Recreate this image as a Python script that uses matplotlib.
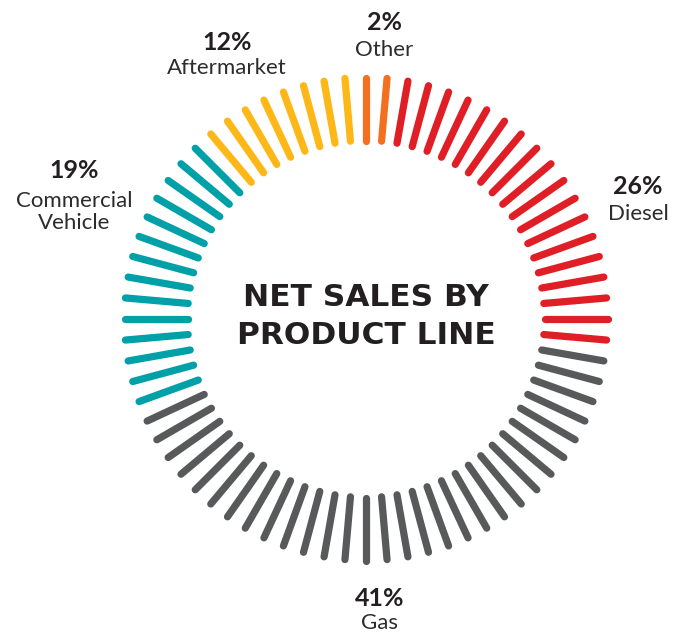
import numpy as np
import matplotlib
matplotlib.use("Agg")
import matplotlib.pyplot as plt

# net sales split by product line
segments = ["Other", "Diesel", "Gas", "Commercial\nVehicle", "Aftermarket"]
shares = [2, 26, 41, 19, 12]
tick_counts = [2, 18, 30, 14, 8]
colors = ["#F37021", "#E01E26", "#58595B", "#00A0A8", "#FDB716"]

# label anchors (percent line, name line) in pixel coords
label_pos = [(384, 23, 50), (638, 187, 214), (380, 599, 623),
             (74, 171, 212), (227, 43, 68)]

W, H = 679, 633
CX, CY = 366, 319
R_IN, R_OUT = 178.5, 241.5
STEP = 5.0


def main():
    fig = plt.figure(figsize=(W / 100, H / 100), dpi=100)
    ax = fig.add_axes([0, 0, 1, 1])
    ax.set_xlim(0, W)
    ax.set_ylim(H, 0)
    ax.axis("off")

    k = 0
    for n, c in zip(tick_counts, colors):
        for i in range(n):
            a = np.radians(k * STEP)
            xs = [CX + R_IN * np.sin(a), CX + R_OUT * np.sin(a)]
            ys = [CY - R_IN * np.cos(a), CY - R_OUT * np.cos(a)]
            ax.plot(xs, ys, color=c, lw=5.2, solid_capstyle="round")
            k += 1

    ax.text(CX, 297, "NET SALES BY", ha="center", va="center",
            fontsize=22.5, fontweight="bold", family="DejaVu Sans", color="#231F20")
    ax.text(CX, 335, "PRODUCT LINE", ha="center", va="center",
            fontsize=22.5, fontweight="bold", family="DejaVu Sans", color="#231F20")

    for name, s, (x, yp, yn) in zip(segments, shares, label_pos):
        ax.text(x, yp, f"{s}%", ha="center", va="center", fontsize=18,
                fontweight="bold", family="Lato", color="#231F20")
        ax.text(x, yn, name, ha="center", va="center", fontsize=16,
                fontweight="normal", family="Lato", color="#2E2B2C",
                linespacing=1.1)

    fig.savefig("out.png", dpi=100)


if __name__ == "__main__":
    main()
